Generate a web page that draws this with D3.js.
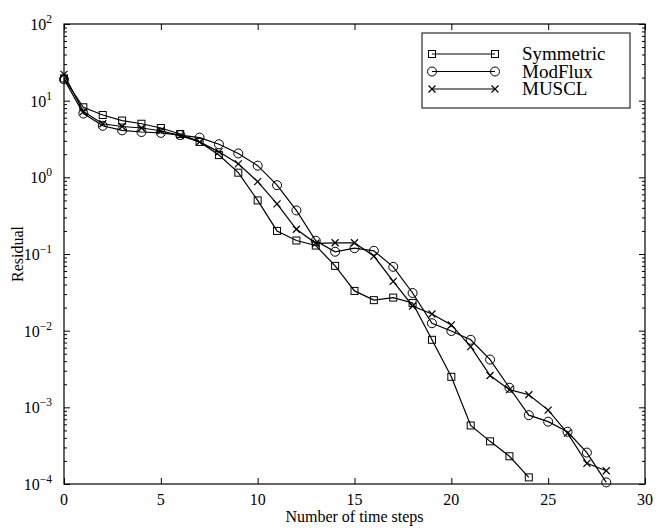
<!DOCTYPE html>
<html>
<head>
<meta charset="utf-8">
<script src="https://cdn.jsdelivr.net/npm/d3@7"></script>
<style>
    body { margin: 0; background: #fff; }
    text { font-family: "Liberation Serif", "Times New Roman", serif; fill: #000; }
</style>
</head>
<body>
<div id="chart"></div>
<script>
// residual per time step
const symmetric = [19.5, 8.2, 6.5, 5.5, 5.0, 4.4, 3.67, 2.9, 1.95, 1.15, 0.5, 0.2, 0.15, 0.129, 0.07,
    0.033, 0.025, 0.027, 0.023, 0.0076, 0.0025, 0.00058, 0.00036, 0.00023, 0.000122];
const modflux = [19, 6.8, 4.7, 4.1, 3.9, 3.8, 3.56, 3.3, 2.7, 2.05, 1.42, 0.79, 0.37, 0.149, 0.107,
    0.119, 0.11, 0.068, 0.031, 0.0125, 0.0099, 0.0076, 0.0042, 0.0018, 0.00079, 0.00065, 0.00048,
    0.000257, 0.000105];
const muscl = [22, 7.2, 5.0, 4.6, 4.4, 4.05, 3.5, 2.9, 2.15, 1.5, 0.88, 0.45, 0.21, 0.138, 0.14,
    0.14, 0.094, 0.044, 0.021, 0.0165, 0.0119, 0.0062, 0.0026, 0.0017, 0.00146, 0.00092, 0.00046,
    0.000186, 0.000149];

const seriesNames = ['Symmetric', 'ModFlux', 'MUSCL'];
const seriesMarkers = ['square', 'circle', 'cross'];
const xTicks = [0, 5, 10, 15, 20, 25, 30];
const yExponents = [2, 1, 0, -1, -2, -3, -4];

const width = 658;
const height = 528;
const margin = { top: 24, right: 13, bottom: 44, left: 64 };

const svg = d3.select('#chart')
    .append('svg')
    .attr('width', width)
    .attr('height', height);

const x = d3.scaleLinear()
    .domain([0, 30])
    .range([margin.left, width - margin.right]);

const y = d3.scaleLog()
    .domain([1e-4, 1e2])
    .range([height - margin.bottom, margin.top]);

// minor ticks for the log axis: 2..9 in each decade
const minorTicks = [];
for (let e = -4; e < 2; e++) {
    for (let m = 2; m <= 9; m++) minorTicks.push(m * Math.pow(10, e));
}
const majorY = yExponents.map(e => Math.pow(10, e));

function styleAxis(g) {
    g.select('.domain').remove();
    g.selectAll('line').attr('stroke', '#000').attr('stroke-width', 1);
    g.selectAll('text').remove();
}

// x axis ticks (inward) bottom and top
svg.append('g')
    .attr('transform', `translate(0, ${height - margin.bottom})`)
    .call(d3.axisBottom(x).tickValues(xTicks).tickSize(-6))
    .call(styleAxis);
svg.append('g')
    .attr('transform', `translate(0, ${margin.top})`)
    .call(d3.axisTop(x).tickValues(xTicks).tickSize(-6))
    .call(styleAxis);

// y axis ticks (inward) left and right
[[d3.axisLeft, margin.left], [d3.axisRight, width - margin.right]].forEach(([axisFn, pos]) => {
    svg.append('g')
        .attr('transform', `translate(${pos}, 0)`)
        .call(axisFn(y).tickValues(majorY).tickSize(-6))
        .call(styleAxis);
    svg.append('g')
        .attr('transform', `translate(${pos}, 0)`)
        .call(axisFn(y).tickValues(minorTicks).tickSize(-3))
        .call(styleAxis);
});

// frame
svg.append('rect')
    .attr('x', margin.left)
    .attr('y', margin.top)
    .attr('width', width - margin.left - margin.right)
    .attr('height', height - margin.top - margin.bottom)
    .attr('fill', 'none')
    .attr('stroke', '#000')
    .attr('stroke-width', 1.2);

// x tick labels
svg.selectAll('.xlab')
    .data(xTicks)
    .enter()
    .append('text')
    .attr('class', 'xlab')
    .attr('x', d => x(d))
    .attr('y', height - margin.bottom + 21)
    .attr('text-anchor', 'middle')
    .style('font-size', '16px')
    .text(d => d);

// y tick labels 10^n
const ylab = svg.selectAll('.ylab')
    .data(yExponents)
    .enter()
    .append('text')
    .attr('class', 'ylab')
    .attr('x', margin.left - 12)
    .attr('y', d => y(Math.pow(10, d)) + 6)
    .attr('text-anchor', 'end')
    .style('font-size', '16px');
ylab.append('tspan').text('10');
ylab.append('tspan')
    .attr('dy', -7)
    .style('font-size', '11.5px')
    .text(d => d < 0 ? '\u2212' + Math.abs(d) : d);

// axis titles
svg.append('text')
    .attr('x', (margin.left + width - margin.right) / 2)
    .attr('y', height - 6)
    .attr('text-anchor', 'middle')
    .style('font-size', '16px')
    .text('Number of time steps');

svg.append('text')
    .attr('transform', `translate(23, ${(margin.top + height - margin.bottom) / 2}) rotate(-90)`)
    .attr('text-anchor', 'middle')
    .style('font-size', '16px')
    .text('Residual');

// markers
function drawMarker(g, type, cx, cy) {
    if (type === 'square') {
        g.append('rect')
            .attr('x', cx - 3.5).attr('y', cy - 3.5)
            .attr('width', 7).attr('height', 7)
            .attr('fill', 'none').attr('stroke', '#000').attr('stroke-width', 1);
    } else if (type === 'circle') {
        g.append('circle')
            .attr('cx', cx).attr('cy', cy).attr('r', 4.5)
            .attr('fill', 'none').attr('stroke', '#000').attr('stroke-width', 1);
    } else {
        g.append('path')
            .attr('d', `M${cx - 3.5},${cy - 3.5}L${cx + 3.5},${cy + 3.5}M${cx - 3.5},${cy + 3.5}L${cx + 3.5},${cy - 3.5}`)
            .attr('stroke', '#000').attr('stroke-width', 1.2);
    }
}

const line = d3.line()
    .x((d, i) => x(i))
    .y(d => y(d));

[symmetric, modflux, muscl].forEach((values, k) => {
    svg.append('path')
        .datum(values)
        .attr('d', line)
        .attr('fill', 'none')
        .attr('stroke', '#000')
        .attr('stroke-width', 1.2);
    const g = svg.append('g');
    values.forEach((v, i) => drawMarker(g, seriesMarkers[k], x(i), y(v)));
});

// legend
const legend = svg.append('g');
legend.append('rect')
    .attr('x', 422)
    .attr('y', 33)
    .attr('width', 208)
    .attr('height', 75)
    .attr('fill', '#fff')
    .attr('stroke', '#000')
    .attr('stroke-width', 1);

seriesNames.forEach((name, k) => {
    const ly = 54 + k * 17.5;
    legend.append('line')
        .attr('x1', 432).attr('x2', 495)
        .attr('y1', ly).attr('y2', ly)
        .attr('stroke', '#000').attr('stroke-width', 1.2);
    drawMarker(legend, seriesMarkers[k], 432, ly);
    drawMarker(legend, seriesMarkers[k], 495, ly);
    legend.append('text')
        .attr('x', 522)
        .attr('y', ly + 6)
        .style('font-size', '19px')
        .text(name);
});
</script>
</body>
</html>
